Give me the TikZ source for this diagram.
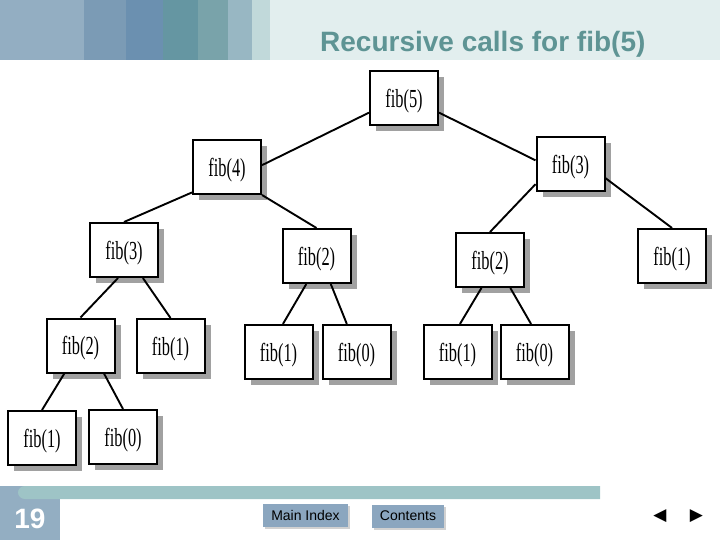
\documentclass[tikz,border=0pt]{standalone}
\usepackage{fontspec}
\setmainfont{Liberation Sans}
\newfontfamily\callfont[FakeStretch=0.63]{Liberation Serif}
\newfontfamily\symfont{DejaVu Sans}
\usepackage{tikz}
\usetikzlibrary{shadows}

\definecolor{bandA}{HTML}{93AEC2}
\definecolor{bandB}{HTML}{7B9BB5}
\definecolor{bandC}{HTML}{6B90B0}
\definecolor{bandD}{HTML}{6596A2}
\definecolor{bandE}{HTML}{79A3AA}
\definecolor{bandF}{HTML}{98B7C3}
\definecolor{bandG}{HTML}{C1D9DA}
\definecolor{bandH}{HTML}{E2EEEE}
\definecolor{titlecol}{HTML}{5E9494}
\definecolor{barcol}{HTML}{9EC4C6}
\definecolor{btncol}{HTML}{8BA6BF}

\begin{document}
\begin{tikzpicture}[x=1pt,y=-1pt,
	call/.style={draw,rectangle,line width=2pt,fill=white,
		minimum width=68pt,minimum height=54pt,inner sep=0pt,
		text depth=0pt,font=\callfont\fontsize{26}{26}\selectfont,
		drop shadow={shadow xshift=6pt,shadow yshift=-6pt,fill=black!37,opacity=1}},
	link/.style={line width=1.9pt},
	button/.style={rectangle,fill=btncol,minimum height=23pt,inner sep=0pt,
		font=\fontsize{14}{14}\selectfont,
		drop shadow={shadow xshift=2pt,shadow yshift=-2pt,fill=black!18,opacity=1}}]

	\useasboundingbox (0,0) rectangle (720,540);

	% Kopfzeile
	% ---------
	\fill[bandH] (270,0) rectangle (720,60);
	\fill[bandA] (0,0) rectangle (84,60);
	\fill[bandB] (84,0) rectangle (126,60);
	\fill[bandC] (126,0) rectangle (163,60);
	\fill[bandD] (163,0) rectangle (198,60);
	\fill[bandE] (198,0) rectangle (228,60);
	\fill[bandF] (228,0) rectangle (252,60);
	\fill[bandG] (252,0) rectangle (270,60);
	\node[anchor=base west,inner sep=0pt,text=titlecol,
		  font=\bfseries\fontsize{28}{28}\selectfont]
		  (title) at (320,52) {Recursive calls for fib(5)};

	% Aufrufbaum
	% ----------
	\node[call] (f5)  at (404,98.5) {fib(5)};
	\node[call] (f4)  at (227,167)  {fib(4)};
	\node[call] (f3r) at (570.5,164) {fib(3)};
	\node[call] (f3l) at (124,250)  {fib(3)};
	\node[call] (f2a) at (316.5,256) {fib(2)};
	\node[call] (f2b) at (490,260)  {fib(2)};
	\node[call] (f1a) at (672,256)  {fib(1)};
	\node[call] (f2l) at (80.5,345.5) {fib(2)};
	\node[call] (f1b) at (170.5,346) {fib(1)};
	\node[call] (f1c) at (278.5,352) {fib(1)};
	\node[call] (f0a) at (356.5,352) {fib(0)};
	\node[call] (f1d) at (457.5,352) {fib(1)};
	\node[call] (f0b) at (534.5,352) {fib(0)};
	\node[call] (f1e) at (42,438)   {fib(1)};
	\node[call] (f0c) at (123,437)  {fib(0)};

	% Verbindungen
	\draw[link] (f5.202) -- (f4.3);
	\draw[link] (f5.338) -- (f3r.174);
	\draw[link] (f4.216) -- (f3l.north);
	\draw[link] (f4.south east) -- (f2a.north);
	\draw[link] (f3r.210) -- (f2b.north);
	\draw[link] (f3r.338) -- (f1a.north);
	\draw[link] (f3l.258) -- (f2l.north);
	\draw[link] (f3l.304) -- (f1b.north);
	\draw[link] (f2a.250) -- (f1c.81);
	\draw[link] (f2a.297) -- (f0a.109);
	\draw[link] (f2b.253) -- (f1d.85);
	\draw[link] (f2b.306) -- (f0b.97);
	\draw[link] (f2l.240) -- (f1e.north);
	\draw[link] (f2l.310) -- (f0c.north);

	% Fusszeile
	% ---------
	\fill[bandA] (0,486) rectangle (60,540);
	\fill[barcol] (25,486) -- (600,486) -- (600,499) -- (25,499)
		  arc[start angle=270,end angle=90,x radius=7pt,y radius=6.5pt] -- cycle;
	\node[anchor=base,inner sep=0pt,text=white,
		  font=\bfseries\fontsize{28}{28}\selectfont]
		  (page) at (30,528) {19};
	\node[button,minimum width=85pt] (main) at (305.5,515.5) {Main Index};
	\node[button,minimum width=72pt] (cont) at (408,516) {Contents};
	\node[font=\symfont\fontsize{17}{17}\selectfont,inner sep=0pt] (prev) at (660,516.5) {◀};
	\node[font=\symfont\fontsize{17}{17}\selectfont,inner sep=0pt] (next) at (696.5,516.5) {▶};

\end{tikzpicture}
\end{document}
